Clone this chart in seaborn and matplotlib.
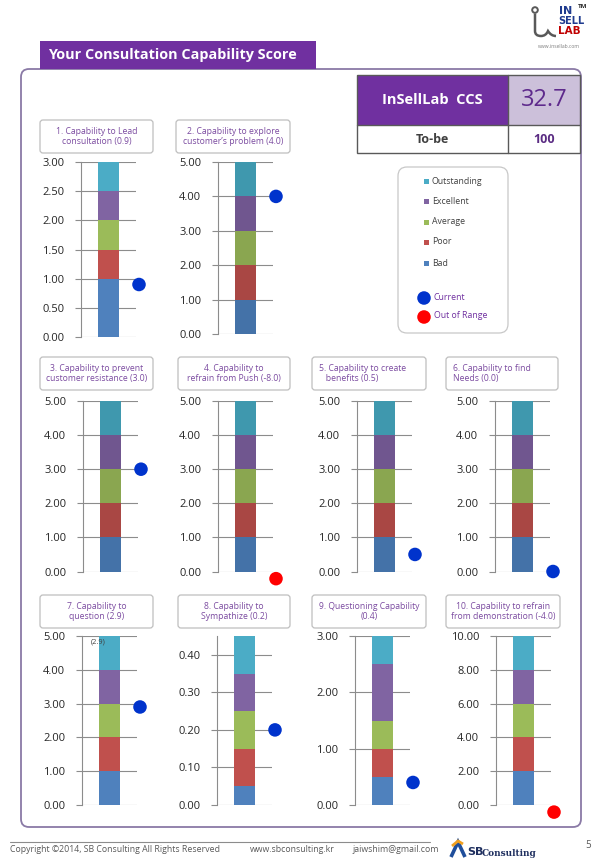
import matplotlib
matplotlib.use("Agg")
import matplotlib.pyplot as plt
import seaborn as sns
import numpy as np
import pandas as pd
from matplotlib.patches import FancyBboxPatch, Rectangle, Circle, PathPatch
from matplotlib.path import Path

sns.set_theme(style="white")
plt.rcParams["font.family"] = ["Open Sans", "DejaVu Sans"]

# ---------------- data ----------------
levels = ["Bad", "Poor", "Average", "Excellent", "Outstanding"]
chart_titles = [
    "1. Capability to Lead\nconsultation (0.9)",
    "2. Capability to explore\ncustomer\u2019s problem (4.0)",
    "3. Capability to prevent\ncustomer resistance (3.0)",
    "4. Capability to\nrefrain from Push (-8.0)",
    "5. Capability to create\n   benefits (0.5)",
    "6. Capability to find\nNeeds (0.0)",
    "7. Capability to\nquestion (2.9)",
    "8. Capability to\nSympathize (0.2)",
    "9. Questioning Capability\n(0.4)",
    "10. Capability to refrain\nfrom demonstration (-4.0)",
]
band_bad = [1.0, 1, 1, 1, 1, 1, 1, 0.05, 0.5, 2]
band_poor = [0.5, 1, 1, 1, 1, 1, 1, 0.10, 0.5, 2]
band_average = [0.5, 1, 1, 1, 1, 1, 1, 0.10, 0.5, 2]
band_excellent = [0.5, 1, 1, 1, 1, 1, 1, 0.10, 1.0, 2]
band_outstanding = [0.5, 1, 1, 1, 1, 1, 1, 0.10, 0.5, 2]
scores = [0.9, 4.0, 3.0, -8.0, 0.5, 0.0, 2.9, 0.2, 0.4, -4.0]
y_max = [3, 5, 5, 5, 5, 5, 5, 0.45, 3, 10]
y_step = [0.5, 1, 1, 1, 1, 1, 1, 0.1, 1, 2]
ccs_score = "32.7"
to_be = "100"
legend_labels = ["Outstanding", "Excellent", "Average", "Poor", "Bad"]

# ---------------- style ----------------
bright = ["#4F81BD", "#C0504D", "#9BBB59", "#8064A2", "#4BACC6"]
dark = ["#4472A8", "#A94744", "#8AA650", "#70568F", "#3F98AE"]
palettes = [bright, dark, dark, dark, dark, dark, bright, bright, bright, bright]
PURPLE = "#7030A0"
GRID = "#8C8C8C"

W, H = 600, 867
fig = plt.figure(figsize=(6, 8.67), dpi=100)
bg = fig.add_axes([0, 0, 1, 1], zorder=0)
bg.set_xlim(0, W)
bg.set_ylim(H, 0)
bg.axis("off")

# outer frame and title tab
bg.add_patch(FancyBboxPatch((21, 69), 560, 758, boxstyle="round,pad=0,rounding_size=8",
                            fc="white", ec="#8A7AA6", lw=1.3))
bg.add_patch(Rectangle((40, 41), 276, 27.5, fc=PURPLE, ec="none"))
bg.text(48, 55, "Your Consultation Capability Score", color="white", fontsize=10.4,
        fontweight="bold", va="center", ha="left")

# logo
bg.add_patch(Circle((535, 10), 2.8, fc="white", ec="#595959", lw=1.4))
lp = Path([(535, 13.5), (535, 31), (535, 36), (541, 36), (546, 36), (548, 31),
           (551, 36), (556, 36)],
          [Path.MOVETO, Path.LINETO, Path.CURVE3, Path.CURVE3, Path.CURVE3, Path.CURVE3,
           Path.CURVE3, Path.CURVE3])
bg.add_patch(PathPatch(lp, fc="none", ec="#595959", lw=1.8))
bg.text(559, 11, "IN", color="#1F3B8F", fontsize=8, fontweight="bold", va="center", ha="left",
        family="DejaVu Sans")
bg.text(558, 21, "SELL", color="#1F3B8F", fontsize=7, fontweight="bold", va="center",
        ha="left", family="DejaVu Sans")
bg.text(558, 31, "LAB", color="#C00000", fontsize=7.5, fontweight="bold", va="center",
        ha="left", family="DejaVu Sans")
bg.text(578, 6, "TM", color="#262626", fontsize=4.5, fontweight="bold", va="center", ha="left")
bg.text(559, 47, "www.insellab.com", color="#7F7F7F", fontsize=3.6, va="center", ha="center")

# CCS table
bg.add_patch(Rectangle((357, 75), 151, 50, fc=PURPLE, ec="none"))
bg.add_patch(Rectangle((508, 75), 72, 50, fc="#CCC0DA", ec="none"))
bg.add_patch(Rectangle((357, 125), 223, 28, fc="white", ec="none"))
bg.add_patch(Rectangle((357, 75), 223, 78, fc="none", ec="#595959", lw=1.0))
bg.plot([357, 580], [125, 125], color="#595959", lw=1.0)
bg.plot([508, 508], [75, 153], color="#595959", lw=1.0)
bg.text(432, 100, "InSellLab  CCS", color="white", fontsize=10.5, fontweight="bold",
        ha="center", va="center")
bg.text(544, 100, ccs_score, color="#5E2A8C", fontsize=17, ha="center", va="center")
bg.text(432, 139.5, "To-be", color="#404040", fontsize=9, fontweight="bold", ha="center",
        va="center")
bg.text(544, 139.5, to_be, color="#5B2C83", fontsize=9, fontweight="bold", ha="center",
        va="center")

# legend box
bg.add_patch(FancyBboxPatch((398, 167), 110, 166, boxstyle="round,pad=0,rounding_size=9",
                            fc="white", ec="#C8C8C8", lw=0.9))
leg_y = [181, 201, 222, 242, 263]
for lab, yy, col in zip(legend_labels, leg_y, bright[::-1]):
    bg.add_patch(Rectangle((424, yy - 2.5), 5, 5, fc=col, ec="none"))
    bg.text(432, yy, lab, color="#404040", fontsize=6.3, va="center", ha="left")
bg.scatter([424], [298], s=95, color="#0033CC", edgecolors="none")
bg.text(434, 297, "Current", color=PURPLE, fontsize=6.3, va="center", ha="left")
bg.scatter([424], [317], s=95, color="#FF0000", edgecolors="none")
bg.text(434, 316, "Out of Range", color=PURPLE, fontsize=6.3, va="center", ha="left")

# footer
bg.plot([10, 430], [842, 842], color="#8C8C8C", lw=0.8)
bg.text(10, 850, "Copyright \u00a92014, SB Consulting All Rights Reserved", color="#595959",
        fontsize=6.3, va="center", ha="left")
bg.text(250, 850, "www.sbconsulting.kr", color="#595959", fontsize=6.3, va="center", ha="left")
bg.text(352, 850, "jaiwshim@gmail.com", color="#595959", fontsize=6.3, va="center", ha="left")
bg.add_patch(PathPatch(Path([(451, 857), (458, 842), (465, 857)]), fc="none",
                       ec="#1F4E9B", lw=2.6))
bg.add_patch(PathPatch(Path([(452, 846), (458, 841), (463, 844)]), fc="none",
                       ec="#F0A020", lw=2.0))
bg.text(467, 852, "SB", color="#1F2F5F", fontsize=8, fontweight="bold", va="center",
        ha="left", family="DejaVu Sans")
bg.text(482, 853, "Consulting", color="#1F2F5F", fontsize=6.5, fontweight="bold",
        va="center", ha="left", family="DejaVu Serif")
bg.text(588, 845, "5", color="#595959", fontsize=7, va="center", ha="center")

# chart layout (pixels): bar left, axis top, axis bottom, title box
BAR_W = 21
layout = [
    (98, 162, 337, (40, 153, 120, 153)),
    (235, 162, 334, (176, 290, 120, 153)),
    (100, 401, 571.5, (40, 153, 357, 390)),
    (235, 401, 571.5, (178, 290, 357, 390)),
    (374, 401, 571.5, (312, 426, 357, 390)),
    (512, 401, 571.5, (446, 558, 357, 390)),
    (99, 636, 805, (40, 153, 595, 628)),
    (234, 636, 805, (178, 290, 595, 628)),
    (372, 636, 805, (312, 426, 595, 628)),
    (513, 636, 805, (446, 560, 595, 628)),
]
left_aligned = {4, 5}

bands = np.array([band_bad, band_poor, band_average, band_excellent, band_outstanding])

for i, (bl, top, bot, tb) in enumerate(layout):
    # title box
    x0, x1, y0, y1 = tb
    bg.add_patch(FancyBboxPatch((x0, y0), x1 - x0, y1 - y0,
                                boxstyle="round,pad=0,rounding_size=3",
                                fc="white", ec="#BFBFBF", lw=0.9))
    if i in left_aligned:
        bg.text(x0 + 7, (y0 + y1) / 2, chart_titles[i], color="#7B4BA0", fontsize=6.2,
                ha="left", va="center", linespacing=1.25)
    else:
        bg.text((x0 + x1) / 2, (y0 + y1) / 2, chart_titles[i], color="#7B4BA0",
                fontsize=6.2, ha="center", va="center", multialignment="center",
                linespacing=1.25)

    spine = bl - 17
    gend = bl + BAR_W + 17
    bc = bl + BAR_W / 2
    ax = fig.add_axes([spine / W, 1 - bot / H, (gend - spine) / W, (bot - top) / H],
                      zorder=2)
    ax.set_facecolor("none")

    cum = np.cumsum(bands[:, i])
    pal = palettes[i]
    for k in range(4, -1, -1):
        sns.barplot(x=[0], y=[cum[k]], color=pal[k], width=1.0, saturation=1,
                    errorbar=None, ax=ax, zorder=2, linewidth=0)

    ym = y_max[i]
    sc = scores[i]
    out = sc < 0 or sc > ym
    shown = min(max(sc, -0.042 * ym), ym)
    dot_x = (bl + BAR_W + 20 - bc) / BAR_W
    sns.scatterplot(x=[dot_x], y=[shown], color="#FF0000" if out else "#0033CC", s=95,
                    edgecolor="none", clip_on=False, ax=ax, zorder=5, legend=False)

    if i == 6:
        ax.text(-0.55, ym * 0.985, "(%.1f)" % sc, fontsize=5.3, color="#404040",
                ha="center", va="top")

    ax.set_xlim((spine - bc) / BAR_W, (gend - bc) / BAR_W)
    ax.set_ylim(0, ym)
    ticks = np.arange(0, ym + 1e-9, y_step[i])
    ax.set_yticks(ticks)
    ax.set_yticklabels(["%.2f" % t for t in ticks])
    ax.set_xticks([])
    ax.set_xlabel("")
    ax.set_ylabel("")
    ax.yaxis.grid(True, color=GRID, lw=0.8)
    ax.xaxis.grid(False)
    ax.set_axisbelow(True)
    for s in ["top", "right", "bottom"]:
        ax.spines[s].set_visible(False)
    ax.spines["left"].set_color(GRID)
    ax.spines["left"].set_linewidth(0.8)
    ax.tick_params(axis="y", left=True, length=4, width=0.8, color=GRID, labelsize=8,
                   labelcolor="#262626", pad=8)

fig.savefig("out.png", dpi=100)
